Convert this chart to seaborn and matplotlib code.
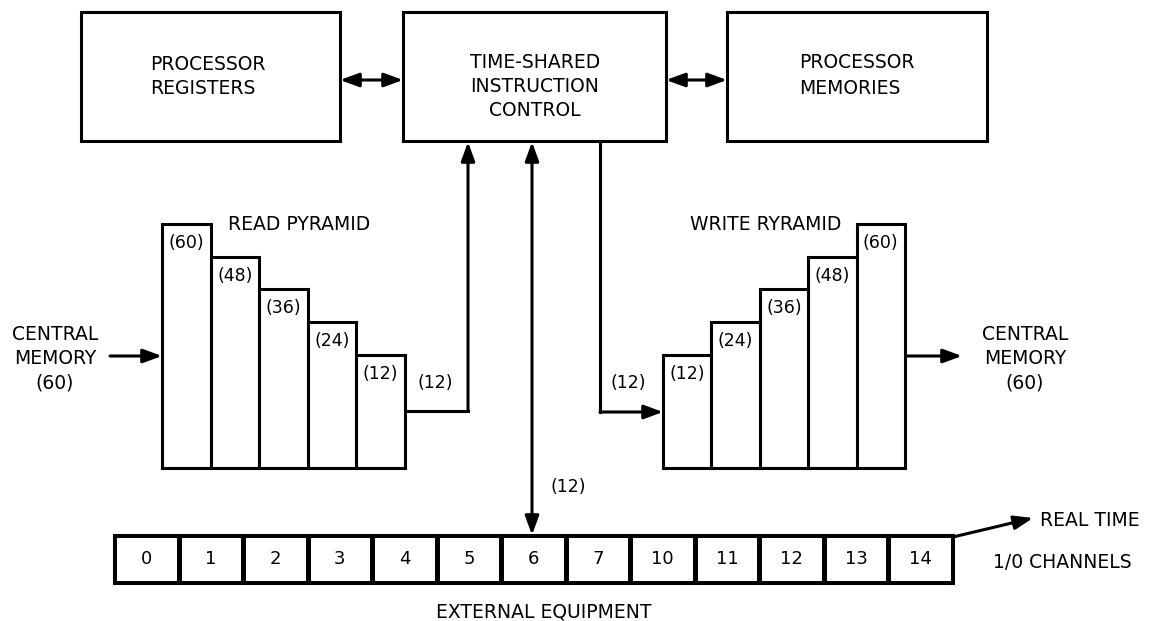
import matplotlib
matplotlib.use("Agg")
import matplotlib.pyplot as plt
from matplotlib.colors import ListedColormap
from matplotlib.patches import Rectangle
import seaborn as sns
import pandas as pd
import numpy as np

# ---------------- data ----------------
read_widths = [60, 48, 36, 24, 12]          # READ PYRAMID register widths (bits)
write_widths = [12, 24, 36, 48, 60]         # WRITE RYRAMID register widths (bits)
channel_labels = ["0", "1", "2", "3", "4", "5", "6", "7", "10", "11", "12", "13", "14"]
bus_width = 12
central_width = 60
box_names = ["PROCESSOR\nREGISTERS", "TIME-SHARED\nINSTRUCTION\nCONTROL", "PROCESSOR\nMEMORIES"]

# ---------------- setup ----------------
W, H = 1151, 621
sns.set_theme(style="white")
plt.rcParams["font.family"] = ["DejaVu Sans"]
plt.rcParams["text.color"] = "black"
FS = 13.5
NFS = 12.5
LW = 2.2
BASE = -29.5   # pyramid baseline (bars are stepped, not proportional)

fig = plt.figure(figsize=(W / 100, H / 100), dpi=100)
fig.patch.set_facecolor("white")
ax = fig.add_axes([0, 0, 1, 1])
ax.set_xlim(0, W)
ax.set_ylim(H, 0)
ax.axis("off")


def px_axes(x0, x1, y_top, y_bot, pad=0):
    return fig.add_axes([(x0 - pad) / W, 1 - (y_bot + pad) / H,
                         (x1 - x0 + 2 * pad) / W, (y_bot - y_top + 2 * pad) / H])


def arrow(p_from, p_to, style="-|>"):
    ax.annotate("", xy=p_to, xytext=p_from,
                arrowprops=dict(arrowstyle=style + ",head_length=0.6,head_width=0.22",
                                lw=LW, color="black", shrinkA=0, shrinkB=0,
                                mutation_scale=19))


def label(x, y, s, ha="center", fs=FS):
    ax.text(x, y, s, ha=ha, va="center", fontsize=fs, color="black")


# ---------------- top boxes ----------------
boxes = [(81, 340), (403, 666), (727, 987)]
for (x0, x1) in boxes:
    ax.add_patch(Rectangle((x0, 12), x1 - x0, 129, fill=False, lw=LW, ec="black"))

for t, y in zip(box_names[0].split("\n"), [65, 89]):
    label(150, y, t, ha="left")
for t, y in zip(box_names[1].split("\n"), [62, 87, 111]):
    label(535, y, t)
for t, y in zip(box_names[2].split("\n"), [63, 88]):
    label(799, y, t, ha="left")

arrow((340, 80), (403, 80), "<|-|>")
arrow((666, 80), (727, 80), "<|-|>")


# ---------------- pyramids (seaborn bars) ----------------
def pyramid(values, x0, x1, y_top, y_bot, prefix):
    pad = 8
    pa = px_axes(x0, x1, y_top, y_bot, pad)
    df = pd.DataFrame({"slot": [f"{prefix}{i}" for i in range(len(values))],
                       "bits": values})
    df["span"] = df["bits"] - BASE
    sns.barplot(data=df, x="slot", y="span", ax=pa, width=1.0, color="white",
                edgecolor="black", linewidth=LW, bottom=BASE, errorbar=None,
                saturation=1)
    n = len(values)
    ux = (x1 - x0) / n
    uy = (y_bot - y_top) / (max(values) - BASE)
    pa.set_xlim(-0.5 - pad / ux, n - 0.5 + pad / ux)
    pa.set_ylim(BASE - pad / uy, max(values) + pad / uy)
    pa.axis("off")
    pa.patch.set_alpha(0)
    for i, v in enumerate(values):
        pa.annotate(f"({v})", xy=(i, v), xytext=(0, -19), textcoords="offset pixels",
                    ha="center", va="center", fontsize=NFS, color="black")
    return pa


pyramid(read_widths, 162, 405, 224, 468, "R")
pyramid(write_widths, 663, 905, 224, 468, "W")

label(299, 225, "READ PYRAMID")
label(766, 225, "WRITE RYRAMID")

for cx in (55, 1025):
    for t, y in zip(["CENTRAL", "MEMORY", f"({central_width})"], [335, 359, 383]):
        label(cx, y, t)
arrow((110, 356), (162, 356))
arrow((905, 356), (962, 356))

# read pyramid -> control
ax.plot([405, 468], [411, 411], color="black", lw=LW, solid_capstyle="projecting")
arrow((468, 411), (468, 142))
label(435, 383, f"({bus_width})", fs=NFS)

# control -> write pyramid
ax.plot([600, 600], [142, 412], color="black", lw=LW, solid_capstyle="projecting")
arrow((600, 412), (663, 412))
label(628, 383, f"({bus_width})", fs=NFS)

# control <-> channel 6
arrow((532, 142), (532, 535), "<|-|>")
label(568, 487, f"({bus_width})", fs=NFS)

# ---------------- I/O channels (seaborn heatmap) ----------------
ca = px_axes(114, 953, 535, 583)
sns.heatmap(np.zeros((1, len(channel_labels))), ax=ca,
            cmap=ListedColormap(["white"]), cbar=False,
            annot=np.array([channel_labels]), fmt="",
            annot_kws={"fontsize": 13, "color": "black"},
            linewidths=LW, linecolor="black",
            xticklabels=False, yticklabels=False)
for s in ca.spines.values():
    s.set_visible(True)
    s.set_linewidth(LW)
    s.set_color("black")

label(544, 612, "EXTERNAL EQUIPMENT")
arrow((953, 537), (1033, 518))
label(1040, 520, "REAL TIME", ha="left")
label(993, 563, "1/0 CHANNELS", ha="left")

fig.savefig("out.png", dpi=100)
